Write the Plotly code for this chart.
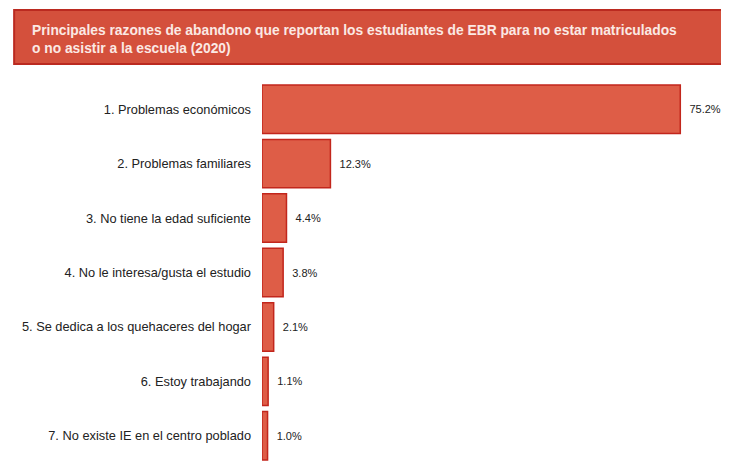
"""Razones de abandono escolar - gráfico de barras horizontales."""
import plotly.graph_objects as go

categorias = [
    "1. Problemas económicos",
    "2. Problemas familiares",
    "3. No tiene la edad suficiente",
    "4. No le interesa/gusta el estudio",
    "5. Se dedica a los quehaceres del hogar",
    "6. Estoy trabajando",
    "7. No existe IE en el centro poblado",
]
porcentajes = [75.2, 12.3, 4.4, 3.8, 2.1, 1.1, 1.0]
etiquetas = [f"\u00a0\u00a0{v:.1f}%" for v in porcentajes]

titulo_l1 = ("Principales razones de abandono que reportan los estudiantes de EBR "
             "para no estar matriculados")
titulo_l2 = "o no asistir a la escuela (2020)"

FONT = "Liberation Sans, Arial, sans-serif"

fig = go.Figure()
fig.add_trace(go.Bar(
    x=porcentajes,
    y=categorias,
    orientation="h",
    text=etiquetas,
    textposition="outside",
    cliponaxis=False,
    textfont=dict(family=FONT, size=11, color="#222222"),
    marker=dict(color="#de5d47", line=dict(color="#c2261c", width=1.5)),
    width=0.89,
))

# caja roja del título (coordenadas relativas al área del gráfico)
fig.add_shape(
    type="rect", xref="paper", yref="paper",
    x0=-0.557, x1=1.036, y0=1.047, y1=1.189,
    fillcolor="#d4503c", line=dict(color="#bb2a20", width=2),
    layer="above",
)
for texto, y in [(titulo_l1, 1.136), (titulo_l2, 1.089)]:
    fig.add_annotation(
        xref="paper", yref="paper", x=-0.521, y=y,
        xanchor="left", yanchor="middle", align="left",
        text=f"<b>{texto}</b>", showarrow=False,
        font=dict(family=FONT, size=13.8, color="#fbe9e4"),
    )

# la página añade 8 px de margen al cuerpo, por eso los márgenes se corrigen
fig.update_layout(
    width=729, height=463,
    margin=dict(l=254, r=30, t=74, b=8, autoexpand=False),
    paper_bgcolor="white", plot_bgcolor="white",
    showlegend=False,
    xaxis=dict(range=[0, 80], visible=False, automargin=False),
    yaxis=dict(
        autorange="reversed", automargin=False,
        showgrid=False, zeroline=False, showline=False,
        ticks="", ticklabelstandoff=10,
        tickfont=dict(family=FONT, size=12.8, color="#222222"),
    ),
)

fig.write_html("out.html")
